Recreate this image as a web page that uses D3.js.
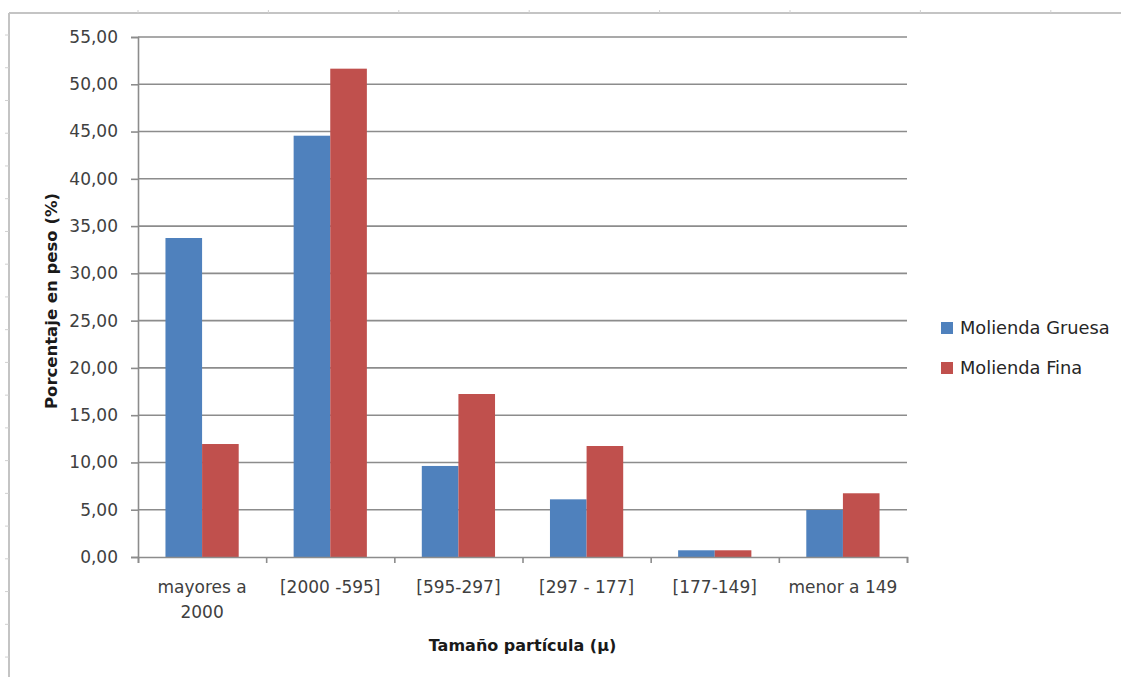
<!DOCTYPE html>
<html><head><meta charset="utf-8">
<script src="https://cdn.jsdelivr.net/npm/d3@7"></script>
<style>
html,body{margin:0;padding:0;background:#fff;}
svg{display:block;font-family:"DejaVu Sans",sans-serif;}
</style></head>
<body>
<svg id="chart" width="1121" height="677"></svg>
<script>
const categories = [["mayores a","2000"],["[2000 -595]"],["[595-297]"],["[297 - 177]"],["[177-149]"],["menor a 149"]];
const seriesNames = ["Molienda Gruesa","Molienda Fina"];
const gruesa = [33.74, 44.56, 9.63, 6.10, 0.71, 4.97];
const fina = [11.95, 51.65, 17.24, 11.74, 0.71, 6.74];
const yTicks = [0,5,10,15,20,25,30,35,40,45,50,55];
const colors = ["#4F81BD","#C0504D"];
const yTitle = "Porcentaje en peso (%)";
const xTitle = "Tamaño partícula (µ)";

const svg = d3.select("#chart");
const textColor = "#404040";
const plot = {left:138, right:907, top:37, bottom:557};

// sheet-like frame
svg.append("line").attr("x1",9).attr("x2",1121).attr("y1",13).attr("y2",13)
  .attr("stroke","#c4c4c4").attr("stroke-width",2);
svg.append("line").attr("x1",9).attr("x2",9).attr("y1",13).attr("y2",677)
  .attr("stroke","#c4c4c4").attr("stroke-width",2);
d3.range(8).forEach(i=>{
  const x = 138 + i*130.4;
  svg.append("line").attr("x1",x).attr("x2",x).attr("y1",10).attr("y2",13).attr("stroke","#d0d0d0");
});
d3.range(20).forEach(i=>{
  const y = 35 + i*32.74;
  svg.append("line").attr("x1",5).attr("x2",9).attr("y1",y).attr("y2",y).attr("stroke","#d0d0d0");
});

const x0 = d3.scaleBand().domain(d3.range(categories.length)).range([plot.left,plot.right]).paddingInner(0).paddingOuter(0);
const bw = x0.bandwidth()/3.5;
const y = d3.scaleLinear().domain([0,55]).range([plot.bottom,plot.top]);

// gridlines
const g = svg.append("g");
g.selectAll("line.grid").data(yTicks.filter(d=>d>0)).join("line")
  .attr("x1",plot.left).attr("x2",plot.right)
  .attr("y1",d=>y(d)).attr("y2",d=>y(d))
  .attr("stroke","#8c8c8c").attr("stroke-width",1.6);

// bars
const series = [gruesa, fina];
series.forEach((vals,si)=>{
  svg.append("g").selectAll("rect").data(vals).join("rect")
    .attr("x",(d,i)=>x0(i)+x0.bandwidth()/2 - bw + si*bw)
    .attr("width",bw)
    .attr("y",d=>y(d))
    .attr("height",d=>y(0)-y(d))
    .attr("fill",colors[si]);
});

// y axis
const yAxis = d3.axisLeft(y).tickValues(yTicks).tickSize(7).tickPadding(13)
  .tickFormat(d=>d3.format(".2f")(d).replace(".",","));
const ya = svg.append("g").attr("transform",`translate(${plot.left},0)`).call(yAxis);
ya.select(".domain").attr("stroke","#8c8c8c").attr("stroke-width",1.6);
ya.selectAll(".tick line").attr("stroke","#8c8c8c").attr("stroke-width",1.6);
ya.selectAll(".tick text").attr("fill",textColor).style("font-size","17px").style("font-family","DejaVu Sans");

// x axis
const xb = d3.scaleLinear().domain([0,categories.length]).range([plot.left,plot.right]);
const xa = svg.append("g").attr("transform",`translate(0,${plot.bottom})`)
  .call(d3.axisBottom(xb).tickValues(d3.range(categories.length+1)).tickSize(6).tickFormat(""));
xa.select(".domain").attr("stroke","#8c8c8c").attr("stroke-width",1.6);
xa.selectAll(".tick line").attr("stroke","#8c8c8c").attr("stroke-width",1.6);

const lab = svg.append("g");
categories.forEach((lines,i)=>{
  const t = lab.append("text").attr("text-anchor","middle").attr("fill",textColor)
    .style("font-size","17px").attr("x",x0(i)+x0.bandwidth()/2).attr("y",593);
  lines.forEach((l,j)=>t.append("tspan").attr("x",x0(i)+x0.bandwidth()/2).attr("dy",j?25:0).text(l));
});

// titles
svg.append("text").attr("x",(plot.left+plot.right)/2).attr("y",651).attr("text-anchor","middle")
  .attr("fill","#1a1a1a").style("font-size","16px").style("font-weight","bold").text(xTitle);
svg.append("text").attr("transform",`translate(57,${(plot.top+plot.bottom)/2+4}) rotate(-90)`)
  .attr("text-anchor","middle").attr("fill","#1a1a1a").style("font-size","16.5px").style("font-weight","bold").text(yTitle);

// legend
const leg = svg.append("g");
seriesNames.forEach((n,i)=>{
  const ly = 328 + i*40;
  leg.append("rect").attr("x",941).attr("y",ly-6).attr("width",12).attr("height",12).attr("fill",colors[i]);
  leg.append("text").attr("x",960).attr("y",ly+6).attr("fill","#262626").style("font-size","17.8px").text(n);
});
</script>
</body></html>
